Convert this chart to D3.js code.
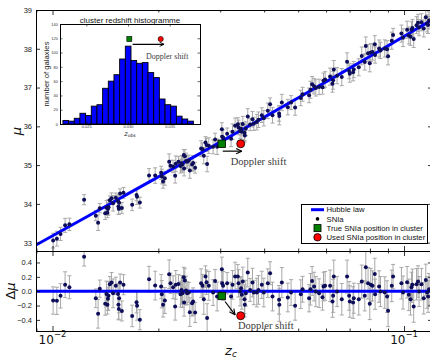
<!DOCTYPE html>
<html><head><meta charset="utf-8">
<script src="https://cdn.jsdelivr.net/npm/d3@7/dist/d3.min.js"></script>
<style>html,body{margin:0;padding:0;background:#fff}svg{display:block}</style>
</head><body>
<svg id="chart" width="430" height="360"></svg>
<script>
// ---------------- data ----------------
const snZ = [
 0.01004,0.01029,0.01054,0.01086,0.01117,0.01230,0.01328,0.01348,0.01363,0.01412,0.01424,0.01433,0.01438,0.01443,0.01456,0.01472,0.01487,0.01514,0.01536,0.01541,0.01544,0.01547,0.01557,0.01575,0.01592,0.01685,
 0.01734,0.01740,0.01772,0.01882,0.01959,0.02037,0.02046,0.02063,0.02087,0.02147,0.02166,0.02203,0.02233,0.02242,0.02282,0.02313,0.02328,0.02343,0.02363,0.02368,0.02379,0.02399,0.02415,0.02442,0.02458,0.02495,0.02512,0.02545,0.02647,0.02672,0.02694,0.02724,0.02743,0.02753,0.02784,0.02863,0.02901,0.02939,0.03032,0.03038,0.03057,0.03139,0.03221,0.03252,
 0.03307,0.03366,0.03382,0.03417,0.03440,0.03456,0.03478,0.03517,0.03524,0.03547,0.03593,0.03649,0.03706,0.03738,0.03812,0.03854,0.03939,0.03991,0.04097,0.04159,0.04225,0.04411,0.04418,0.04491,0.04671,0.04772,0.04899,0.05085,0.05145,0.05369,0.05419,0.05476,0.05548,0.05611,0.05733,0.05861,0.05901,0.05963,0.06161,
 0.06259,0.06284,0.06312,0.06450,0.06651,0.06886,0.06978,0.07010,0.07162,0.07195,0.07434,0.07582,0.07732,0.07784,0.07901,0.07990,0.08042,0.08133,0.08257,0.08273,0.08493,0.08570,0.08815,0.08948,0.09008,0.09228,0.09307,0.09830,0.09935,0.10203,0.10318,0.10433,0.10500,0.10567,0.10653,0.10854,0.10959,0.11035,0.11207,0.11379,0.11532,0.11628,0.11704,0.11781
];
const snDmu = [
 -0.13,-0.135,-0.065,0.09,0.055,0.48,-0.10,-0.315,0.035,-0.175,-0.04,-0.19,-0.105,-0.065,0.095,0.12,-0.03,0.075,-0.04,-0.19,-0.25,-0.10,0.12,-0.275,0.09,-0.345,
 -0.153,-0.204,-0.398,0.166,0.078,0.064,-0.042,-0.19,-0.13,0.236,0.11,0.055,-0.213,0.088,0.101,-0.042,0.018,-0.028,0.194,-0.158,0.148,0.009,-0.028,-0.019,-0.292,-0.167,-0.144,-0.297,0.111,0.074,-0.112,0.203,0.125,-0.375,0.074,-0.019,0.143,-0.075,0.305,0.111,0.074,0.111,-0.075,0.088,
 0.203,0.203,0.11,-0.005,0.041,-0.051,0.134,-0.112,-0.19,-0.028,0.259,0.018,0.12,-0.019,-0.019,0.018,0.088,-0.019,0.111,0.25,-0.075,-0.121,-0.19,0.12,-0.088,-0.019,-0.204,-0.042,0.027,-0.098,0.027,0.143,0.064,-0.005,-0.028,-0.084,0.064,0.074,0.074,
 -0.144,-0.065,0.203,-0.005,-0.112,0.203,-0.065,-0.144,-0.158,-0.098,-0.112,0.134,-0.065,0.333,0.111,-0.176,0.088,0.074,0.24,-0.042,0.064,-0.005,-0.019,-0.075,-0.274,0.074,0.203,0.111,-0.019,0.125,-0.051,-0.112,0.055,0.088,-0.213,0.097,0.134,-0.005,0.097,-0.098,0.157,-0.019,-0.075,0.027
];
const snErr = [
 0.19,0.19,0.17,0.18,0.16,0.13,0.13,0.20,0.12,0.16,0.18,0.13,0.16,0.20,0.11,0.14,0.20,0.12,0.15,0.20,0.15,0.20,0.12,0.14,0.14,0.15,
 0.15,0.20,0.14,0.18,0.20,0.17,0.19,0.17,0.18,0.20,0.14,0.16,0.19,0.20,0.13,0.18,0.20,0.20,0.14,0.19,0.17,0.20,0.16,0.14,0.20,0.18,0.19,0.14,0.20,0.16,0.21,0.15,0.17,0.20,0.20,0.18,0.16,0.20,0.17,0.19,0.20,0.15,0.20,0.20,
 0.20,0.17,0.19,0.20,0.16,0.20,0.20,0.20,0.17,0.18,0.20,0.16,0.20,0.17,0.20,0.20,0.19,0.20,0.20,0.16,0.20,0.20,0.23,0.21,0.20,0.18,0.20,0.20,0.18,0.19,0.22,0.20,0.20,0.21,0.20,0.18,0.20,0.20,0.22,
 0.22,0.23,0.23,0.21,0.22,0.23,0.20,0.22,0.22,0.21,0.22,0.23,0.21,0.23,0.22,0.22,0.23,0.21,0.22,0.21,0.22,0.21,0.22,0.22,0.22,0.22,0.17,0.22,0.23,0.22,0.22,0.22,0.21,0.22,0.22,0.22,0.22,0.21,0.22,0.22,0.22,0.22,0.22,0.22
];
// true / used position of the shifted SNIa
const shiftZ  = [0.0303, 0.0343];
const shiftMu = [35.55, 35.55];
// inset histogram
const histCounts = [5,4,8,15,12,25,27,50,60,69,91,109,89,85,86,72,65,35,27,25,11,7,4];
const histFirstEdge = 0.0222;
const histBinWidth = 0.00068;
const insetXTicks = [0.025, 0.030, 0.035];
const insetYTicks = [0,20,40,60,80,100,120,140];
const insetMarkerZ = [0.03016, 0.03392];
const insetMarkerN = [119, 119];
// axes
const mainYTicks = [33,34,35,36,37,38,39];
const resYTicks = [-0.4,-0.2,0,0.2,0.4];
const xMajorTicks = [0.01, 0.1];
const xMajorExp = ["\u22122", "\u22121"];
const xMinorTicks = [0.009,0.02,0.03,0.04,0.05,0.06,0.07,0.08,0.09];
const legendLabels = ["Hubble law","SNIa","True SNIa position in cluster","Used SNIa position in cluster"];
// Hubble-law model
const H0 = 70, q0 = -0.55, cLight = 299792.458;

// ---------------- drawing ----------------
const svg = d3.select("#chart");
const L=36, R=432, T=10, M=251, B=331;
const SANS = "'Liberation Sans', Arial, sans-serif";
const DJV = "'DejaVu Sans', sans-serif";
const SERIF = "'Liberation Serif', 'Times New Roman', serif";
const PT = "#0d0d5a", EB = "#a8a8a8", BLUE = "#0000ff";

const x  = d3.scaleLog().domain([0.008975, 0.1201]).range([L, R]);
const yM = d3.scaleLinear().domain([32.785, 39]).range([M, T]);
const yR = d3.scaleLinear().domain([-0.555, 0.56]).range([B, M]);
const hubble = z => 5*Math.log10(cLight*z/H0*(1+0.5*(1-q0)*z)) + 25;
const sn = snZ.map((z,i)=>({z, d:snDmu[i], e:snErr[i], mu:hubble(z)+snDmu[i]}));

const defs = svg.append("defs");
defs.append("clipPath").attr("id","cM").append("rect").attr("x",L).attr("y",T).attr("width",R-L).attr("height",M-T);
defs.append("clipPath").attr("id","cR").append("rect").attr("x",L).attr("y",M).attr("width",R-L).attr("height",B-M);
function mk(id, s){
  defs.append("marker").attr("id",id).attr("viewBox","0 0 10 10").attr("refX",9).attr("refY",5)
    .attr("markerWidth",s).attr("markerHeight",s).attr("markerUnits","userSpaceOnUse").attr("orient","auto")
    .append("path").attr("d","M1,1.2 L9,5 L1,8.8").attr("fill","none").attr("stroke","#000").attr("stroke-width",1.6);
}
mk("ah",7); mk("ahs",5.5);

function drawPanel(clip, yS, val, zeroLine){
  const g = svg.append("g").attr("clip-path",`url(#${clip})`);
  const eb = g.append("g").attr("stroke",EB).attr("stroke-width",1);
  sn.forEach(p=>{
    const cx = x(p.z), y0 = yS(val(p)-p.e), y1 = yS(val(p)+p.e);
    eb.append("line").attr("x1",cx).attr("x2",cx).attr("y1",y0).attr("y2",y1);
    eb.append("line").attr("x1",cx-2).attr("x2",cx+2).attr("y1",y0).attr("y2",y0);
    eb.append("line").attr("x1",cx-2).attr("x2",cx+2).attr("y1",y1).attr("y2",y1);
  });
  zeroLine(g);
  g.append("g").selectAll("circle").data(sn).join("circle")
    .attr("cx",p=>x(p.z)).attr("cy",p=>yS(val(p))).attr("r",2).attr("fill",PT);
  return g;
}

// main panel
const zSamples = d3.range(0,81).map(i=>x.invert(L+i*(R-L)/80));
drawPanel("cM", yM, p=>p.mu, g=>{
  g.append("path").datum(zSamples).attr("fill","none").attr("stroke",BLUE).attr("stroke-width",3)
    .attr("d", d3.line().x(z=>x(z)).y(z=>yM(hubble(z))));
});
// residual panel
drawPanel("cR", yR, p=>p.d, g=>{
  g.append("line").attr("x1",L).attr("x2",R).attr("y1",yR(0)).attr("y2",yR(0)).attr("stroke",BLUE).attr("stroke-width",3);
});

// shifted SN markers
function shiftMarkers(g, yS, val, sq, r){
  g.append("rect").attr("x",x(shiftZ[0])-sq/2).attr("y",yS(val(0))-sq/2).attr("width",sq).attr("height",sq)
    .attr("fill","#008000").attr("stroke","#000").attr("stroke-width",0.8);
  g.append("circle").attr("cx",x(shiftZ[1])).attr("cy",yS(val(1))).attr("r",r)
    .attr("fill","#ff0000").attr("stroke","#000").attr("stroke-width",0.8);
}
shiftMarkers(svg, yM, i=>shiftMu[i], 7.5, 4);
shiftMarkers(svg, yR, i=>shiftMu[i]-hubble(shiftZ[i]), 7.5, 4);

// annotations
function arrow(x1,y1,x2,y2,m){
  svg.append("line").attr("x1",x1).attr("y1",y1).attr("x2",x2).attr("y2",y2)
    .attr("stroke","#000").attr("stroke-width",1.2).attr("marker-end",`url(#${m})`);
}
function dopplerText(px,py,size,anchor){
  svg.append("text").attr("x",px).attr("y",py).attr("font-family",SERIF).attr("font-size",size)
    .attr("fill","#3a3a3a").attr("text-anchor",anchor||"start").text("Doppler shift");
}
arrow(x(0.03050), yM(35.36), x(0.03454), yM(35.36), "ah");
dopplerText(x(0.03213), yM(35.0), 10.5);
arrow(x(0.03096), yR(-0.144), x(0.03306), yR(-0.329), "ah");
dopplerText(x(0.03371), yR(-0.534), 10.5);

// frames
[[T,M],[M,B]].forEach(([a,b])=>svg.append("rect").attr("x",L+0.5).attr("y",a+0.5).attr("width",R-L).attr("height",b-a)
  .attr("fill","none").attr("stroke","#000").attr("stroke-width",1));

// axes
function styleAxis(g, fs){
  g.select(".domain").remove();
  g.selectAll("line").attr("stroke","#000").attr("stroke-width",0.8);
  g.selectAll("text").attr("font-family",SANS).attr("font-size",fs).attr("fill","#222");
}
function yAxes(yS, vals, fmt){
  svg.append("g").attr("transform",`translate(${L},0)`)
    .call(d3.axisLeft(yS).tickValues(vals).tickSize(-4).tickPadding(4).tickFormat(fmt)).call(g=>styleAxis(g,7.5));
  svg.append("g").attr("transform",`translate(${R},0)`)
    .call(d3.axisRight(yS).tickValues(vals).tickSize(-4).tickFormat("")).call(g=>styleAxis(g,7));
}
yAxes(yM, mainYTicks, d3.format("d"));
yAxes(yR, resYTicks, d3.format(".1f"));
function xAxes(yPos, top){
  const mkAx = top ? d3.axisTop : d3.axisBottom;
  svg.append("g").attr("transform",`translate(0,${yPos})`)
    .call(mkAx(x).tickValues(xMajorTicks).tickSize(-5).tickFormat("")).call(g=>styleAxis(g,7));
  svg.append("g").attr("transform",`translate(0,${yPos})`)
    .call(mkAx(x).tickValues(xMinorTicks).tickSize(-2.5).tickFormat("")).call(g=>styleAxis(g,7));
}
xAxes(T, true); xAxes(M, false); xAxes(M, true); xAxes(B, false);

// x tick labels 10^-2, 10^-1
xMajorTicks.forEach((v,i)=>{
  const t = svg.append("text").attr("x",x(v)).attr("y",343.5).attr("text-anchor","middle")
    .attr("font-family",DJV).attr("font-size",12).attr("fill","#111");
  t.append("tspan").text("10");
  t.append("tspan").attr("dy",-6.5).attr("font-size",8.5).text(xMajorExp[i]);
});

// axis titles
svg.append("text").attr("transform","translate(21,131) rotate(-90)").attr("text-anchor","middle")
  .attr("font-family",DJV).attr("font-size",13).attr("font-style","italic").attr("fill","#111").text("\u03bc");
const dl = svg.append("text").attr("transform","translate(15,291) rotate(-90)").attr("text-anchor","middle")
  .attr("font-family",DJV).attr("font-size",13).attr("fill","#111");
dl.append("tspan").text("\u0394");
dl.append("tspan").attr("font-style","italic").text("\u03bc");
const zc = svg.append("text").attr("x",231).attr("y",354.5).attr("text-anchor","middle")
  .attr("font-family",DJV).attr("font-size",13).attr("font-style","italic").attr("fill","#111");
zc.append("tspan").text("z");
zc.append("tspan").attr("dy",2.5).attr("font-size",9).text("c");

// ---------------- inset histogram ----------------
const IL=60, IR=200, IT=24, IB=124;
const xi = d3.scaleLinear().domain([0.02185, 0.03863]).range([IL, IR]);
const yi = d3.scaleLinear().domain([0, 140]).range([IB, IT]);
const gi = svg.append("g");
gi.append("rect").attr("x",IL).attr("y",IT).attr("width",IR-IL).attr("height",IB-IT).attr("fill","#fff");
gi.append("g").selectAll("rect").data(histCounts).join("rect")
  .attr("x",(c,i)=>xi(histFirstEdge+i*histBinWidth))
  .attr("width",(c,i)=>xi(histFirstEdge+(i+1)*histBinWidth)-xi(histFirstEdge+i*histBinWidth))
  .attr("y",c=>yi(c)).attr("height",c=>yi(0)-yi(c))
  .attr("fill","#0000ff").attr("stroke","#000").attr("stroke-width",0.9);
gi.append("rect").attr("x",IL+0.5).attr("y",IT+0.5).attr("width",IR-IL).attr("height",IB-IT)
  .attr("fill","none").attr("stroke","#000").attr("stroke-width",1);
function styleSmall(g){
  g.select(".domain").remove();
  g.selectAll("line").attr("stroke","#000").attr("stroke-width",0.6);
  g.selectAll("text").attr("font-family",SANS).attr("font-size",4).attr("fill","#333");
}
gi.append("g").attr("transform",`translate(${IL},0)`)
  .call(d3.axisLeft(yi).tickValues(insetYTicks).tickSize(-2.5).tickPadding(2).tickFormat(d3.format("d"))).call(styleSmall);
gi.append("g").attr("transform",`translate(${IR},0)`)
  .call(d3.axisRight(yi).tickValues(insetYTicks).tickSize(-2.5).tickFormat("")).call(styleSmall);
gi.append("g").attr("transform",`translate(0,${IB})`)
  .call(d3.axisBottom(xi).tickValues(insetXTicks).tickSize(-2.5).tickPadding(1).tickFormat(d3.format(".3f"))).call(styleSmall);
gi.append("g").attr("transform",`translate(0,${IT})`)
  .call(d3.axisTop(xi).tickValues(insetXTicks).tickSize(-2.5).tickFormat("")).call(styleSmall);
gi.append("text").attr("x",(IL+IR)/2).attr("y",22.5).attr("text-anchor","middle")
  .attr("font-family",SANS).attr("font-size",8).attr("fill","#111").text("cluster redshift histogramme");
gi.append("text").attr("transform",`translate(49,${(IT+IB)/2}) rotate(-90)`).attr("text-anchor","middle")
  .attr("font-family",SANS).attr("font-size",7.7).attr("fill","#222").text("number of galaxies");
const zo = gi.append("text").attr("x",(IL+IR)/2).attr("y",135.5).attr("text-anchor","middle")
  .attr("font-family",DJV).attr("font-size",6.5).attr("font-style","italic").attr("fill","#222");
zo.append("tspan").text("z");
zo.append("tspan").attr("dy",1.5).attr("font-size",4.5).text("obs");
gi.append("rect").attr("x",xi(insetMarkerZ[0])-2.5).attr("y",yi(insetMarkerN[0])-2.5).attr("width",5).attr("height",5)
  .attr("fill","#008000").attr("stroke","#000").attr("stroke-width",0.6);
gi.append("circle").attr("cx",xi(insetMarkerZ[1])).attr("cy",yi(insetMarkerN[1])).attr("r",2.6)
  .attr("fill","#ff0000").attr("stroke","#000").attr("stroke-width",0.6);
arrow(xi(0.03056), yi(111.6), xi(0.03432), yi(111.6), "ahs");
dopplerText(xi(0.03471), yi(91), 8, "middle");

// ---------------- legend ----------------
const lg = svg.append("g");
lg.append("rect").attr("x",301.5).attr("y",204.5).attr("width",126).attr("height",39)
  .attr("fill","#fff").attr("stroke","#000").attr("stroke-width",1);
const rowY = i => 209.7 + i*9.2;
lg.append("line").attr("x1",311).attr("x2",324).attr("y1",rowY(0)).attr("y2",rowY(0)).attr("stroke",BLUE).attr("stroke-width",3);
lg.append("circle").attr("cx",317.5).attr("cy",rowY(1)).attr("r",1.8).attr("fill","#000");
lg.append("rect").attr("x",314).attr("y",rowY(2)-3.5).attr("width",7).attr("height",7).attr("fill","#008000").attr("stroke","#000").attr("stroke-width",0.8);
lg.append("circle").attr("cx",317.5).attr("cy",rowY(3)).attr("r",3.7).attr("fill","#ff0000").attr("stroke","#000").attr("stroke-width",0.8);
legendLabels.forEach((s,i)=>lg.append("text").attr("x",326.5).attr("y",rowY(i)).attr("dy","0.35em")
  .attr("font-family",SANS).attr("font-size",7.7).attr("fill","#111").text(s));
</script>
</body></html>
